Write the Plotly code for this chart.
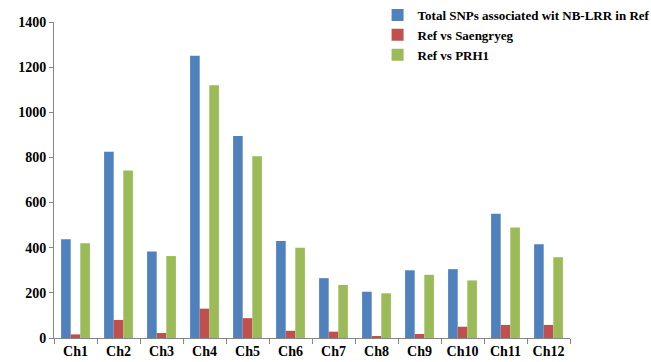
import plotly.graph_objects as go

categories = ["Ch1", "Ch2", "Ch3", "Ch4", "Ch5", "Ch6", "Ch7", "Ch8", "Ch9", "Ch10", "Ch11", "Ch12"]
total_snps = [438, 825, 383, 1250, 895, 430, 265, 205, 300, 305, 550, 415]
ref_vs_saengryeg = [16, 80, 22, 130, 88, 32, 28, 5, 18, 50, 58, 58]
ref_vs_prh1 = [420, 742, 363, 1120, 805, 400, 235, 198, 280, 255, 490, 358]
y_ticks = [0, 200, 400, 600, 800, 1000, 1200, 1400]

font_family = "Liberation Serif"

fig = go.Figure()
fig.add_trace(go.Bar(x=categories, y=total_snps, name="Total SNPs associated wit NB-LRR in Ref",
                     marker=dict(color="#4F81BD", line=dict(width=0))))
fig.add_trace(go.Bar(x=categories, y=ref_vs_saengryeg, name="Ref vs Saengryeg",
                     marker=dict(color="#C0504D", line=dict(width=0))))
fig.add_trace(go.Bar(x=categories, y=ref_vs_prh1, name="Ref vs PRH1",
                     marker=dict(color="#9BBB59", line=dict(width=0))))

fig.update_layout(
    width=651, height=362,
    margin=dict(l=54, r=81, t=22, b=24, autoexpand=False),
    paper_bgcolor="white", plot_bgcolor="white",
    barmode="group", bargap=0.33, bargroupgap=0,
    font=dict(family=font_family, color="black"),
    showlegend=True,
    legend=dict(xref="container", yref="container", x=0.580, y=1.0,
                xanchor="left", yanchor="top",
                font=dict(family=font_family, size=13, color="black", weight="bold"),
                bgcolor="rgba(0,0,0,0)", itemwidth=30, tracegroupgap=0),
)
fig.update_xaxes(
    automargin=False, tickangle=0,
    showline=True, linecolor="#868686", linewidth=1,
    ticks="outside", tickson="boundaries", ticklen=5, tickcolor="#868686",
    tickfont=dict(family=font_family, size=14, color="black", weight="bold"),
    showgrid=False,
)
fig.update_yaxes(
    automargin=False,
    range=[0, 1400], tickvals=y_ticks,
    showline=True, linecolor="#868686", linewidth=1,
    ticks="outside", ticklen=4, tickcolor="#868686",
    tickfont=dict(family=font_family, size=14, color="black", weight="bold"),
    showgrid=False, zeroline=False,
)

fig.write_html("out.html", config={"displayModeBar": False},
               post_script="document.body.style.margin='0px';")
